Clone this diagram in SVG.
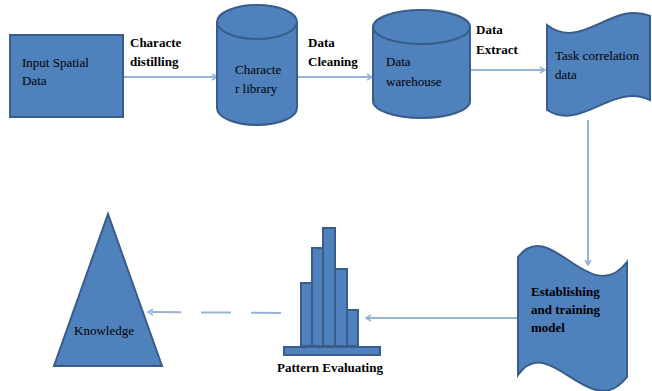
<svg xmlns="http://www.w3.org/2000/svg" width="652" height="391" viewBox="0 0 652 391">
<defs>
<style>
.shape{fill:#4F81BD;stroke:#385D8A;stroke-width:2}
.conn{fill:none;stroke:#95B3D7;stroke-width:2}
text{font-family:'Liberation Serif','DejaVu Serif',serif;font-size:13px;fill:#000}
.b{font-weight:bold}
</style>
<marker id="ah" markerWidth="8" markerHeight="8" refX="6" refY="4" orient="auto" markerUnits="userSpaceOnUse">
<path d="M1,1 L6,4 L1,7" fill="none" stroke="#95B3D7" stroke-width="1.5"/>
</marker>
</defs>
<rect width="652" height="391" fill="#fff"/>
<g id="connectors">
<line class="conn" x1="123" y1="77" x2="217" y2="77" marker-end="url(#ah)"/>
<line class="conn" x1="297" y1="77" x2="372" y2="77" marker-end="url(#ah)"/>
<line class="conn" x1="470" y1="70" x2="545" y2="70" marker-end="url(#ah)"/>
<line class="conn" x1="588" y1="120" x2="588" y2="265" marker-end="url(#ah)"/>
<line class="conn" x1="518" y1="318" x2="366" y2="318" marker-end="url(#ah)"/>
<line class="conn" x1="281" y1="313" x2="148" y2="312" stroke-dasharray="30 20" marker-end="url(#ah)"/>
</g>
<g id="input">
<rect class="shape" x="10" y="35" width="113" height="82"/>
<text x="22" y="67">Input Spatial</text>
<text x="22" y="85">Data</text>
</g>
<g id="label-distilling">
<text class="b" x="130" y="47">Characte</text>
<text class="b" x="130" y="66">distilling</text>
</g>
<g id="character-library">
<path class="shape" d="M217,22 A40,17 0 0 1 297,22 L297,108 A40,17 0 0 1 217,108 Z"/>
<path class="shape" d="M217,22 A40,17 0 0 0 297,22" fill="none"/>
<text x="235" y="74">Characte</text>
<text x="235" y="93">r library</text>
</g>
<g id="label-cleaning">
<text class="b" x="308" y="47">Data</text>
<text class="b" x="308" y="66">Cleaning</text>
</g>
<g id="data-warehouse">
<path class="shape" d="M373,27 A48.5,17 0 0 1 470,27 L470,101 A48.5,17 0 0 1 373,101 Z"/>
<path class="shape" d="M373,27 A48.5,17 0 0 0 470,27" fill="none"/>
<text x="386" y="66">Data</text>
<text x="386" y="86">warehouse</text>
</g>
<g id="label-extract">
<text class="b" x="476" y="34">Data</text>
<text class="b" x="476" y="54">Extract</text>
</g>
<g id="task-correlation">
<path class="shape" d="M547,25 C582,52 612,0 650,16 L650,100 C612,82 582,132 547,110 Z"/>
<text x="555" y="60">Task correlation</text>
<text x="555" y="79">data</text>
</g>
<g id="establishing">
<path class="shape" d="M518,257 C550,215 590,310 627,262 L627,377 C590,425 550,330 518,375 Z"/>
<text class="b" x="531" y="296">Establishing</text>
<text class="b" x="531" y="314">and training</text>
<text class="b" x="531" y="332">model</text>
</g>
<g id="pattern-evaluating">
<rect class="shape" x="284" y="347" width="96" height="8"/>
<rect class="shape" x="301" y="283" width="11" height="63"/>
<rect class="shape" x="312" y="248" width="11" height="98"/>
<rect class="shape" x="323" y="228" width="12" height="118"/>
<rect class="shape" x="335" y="269" width="12" height="77"/>
<rect class="shape" x="347" y="310" width="11" height="36"/>
<text class="b" x="330" y="372" text-anchor="middle">Pattern Evaluating</text>
</g>
<g id="knowledge">
<polygon class="shape" points="108,214 54,366 162,366"/>
<text x="104" y="335" text-anchor="middle">Knowledge</text>
</g>
</svg>
